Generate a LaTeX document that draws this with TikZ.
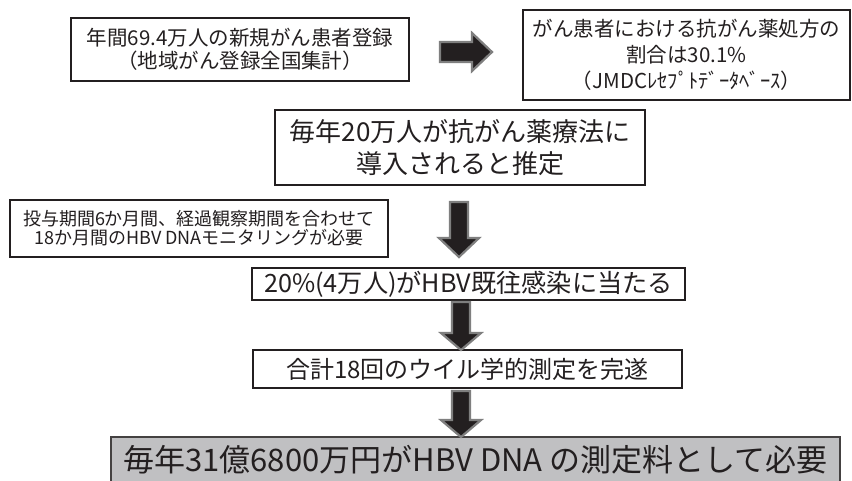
\documentclass[tikz,border=0pt]{standalone}
\usepackage{fontspec}
\setmainfont{Noto Sans CJK JP}
\definecolor{inkc}{HTML}{231F20}
\definecolor{boxgray}{HTML}{C0C0C2}
\definecolor{arrowedge}{HTML}{7F7F7F}
\begin{document}
\begin{tikzpicture}[x=1pt,y=-1pt,
  box/.style={draw=inkc,line width=2.4pt,fill=white,align=center,text=inkc,inner sep=0pt},
  blockarrow/.style={fill=inkc,draw=arrowedge,line width=2.2pt,line join=miter},
  pics/darrow/.style n args={2}{code={\draw[blockarrow] (-9,0) -- (-9,#2) -- (-20,#2) -- (0,#1) -- (20,#2) -- (9,#2) -- (9,0) -- cycle;}},
  pics/rarrow/.style n args={2}{code={\draw[blockarrow] (0,-10) -- (#2,-10) -- (#2,-19) -- (#1,0) -- (#2,19) -- (#2,10) -- (0,10) -- cycle;}}
]
\useasboundingbox[fill=white] (0,0) rectangle (852,480);

\node[box,minimum width=338pt,minimum height=63pt,font=\fontsize{20.5}{23}\selectfont] (b1) at (240,49.5)
  {年間69.4万人の新規がん患者登録\\（地域がん登録全国集計）};
\node[box,minimum width=327pt,minimum height=90pt,font=\fontsize{20.5}{26}\selectfont] (b2) at (686.5,55)
  {がん患者における抗がん薬処方の\\割合は30.1\%\\（JMDCﾚｾﾌﾟﾄﾃﾞｰﾀﾍﾞｰｽ）};
\node[box,minimum width=370pt,minimum height=75pt,font=\fontsize{26}{32}\selectfont] (b3) at (460,147.5)
  {毎年20万人が抗がん薬療法に\\導入されると推定};
\node[box,minimum width=378pt,minimum height=57pt,font=\fontsize{18}{19}\selectfont] (b4) at (199,228.5)
  {投与期間6か月間、経過観察期間を合わせて\\18か月間のHBV DNAモニタリングが必要};
\node[box,minimum width=433pt,minimum height=32pt,font=\fontsize{25.2}{27}\selectfont] (b5) at (468.5,284)
  {20\%(4万人)がHBV既往感染に当たる};
\node[box,minimum width=429pt,minimum height=38pt,font=\fontsize{24}{26}\selectfont] (b6) at (467.5,369)
  {合計18回のウイル学的測定を完遂};
\node[box,fill=boxgray,draw=inkc!85,line width=2pt,minimum width=729pt,minimum height=46pt,font=\fontsize{31}{33}\selectfont] (b7) at (475.5,460)
  {毎年31億6800万円がHBV DNA の測定料として必要};

\pic at (440,52) {rarrow={52}{32}};
\pic at (459,202) {darrow={55}{36}};
\pic at (461,302) {darrow={48}{31}};
\pic at (461,391) {darrow={46}{29}};
\end{tikzpicture}
\end{document}
